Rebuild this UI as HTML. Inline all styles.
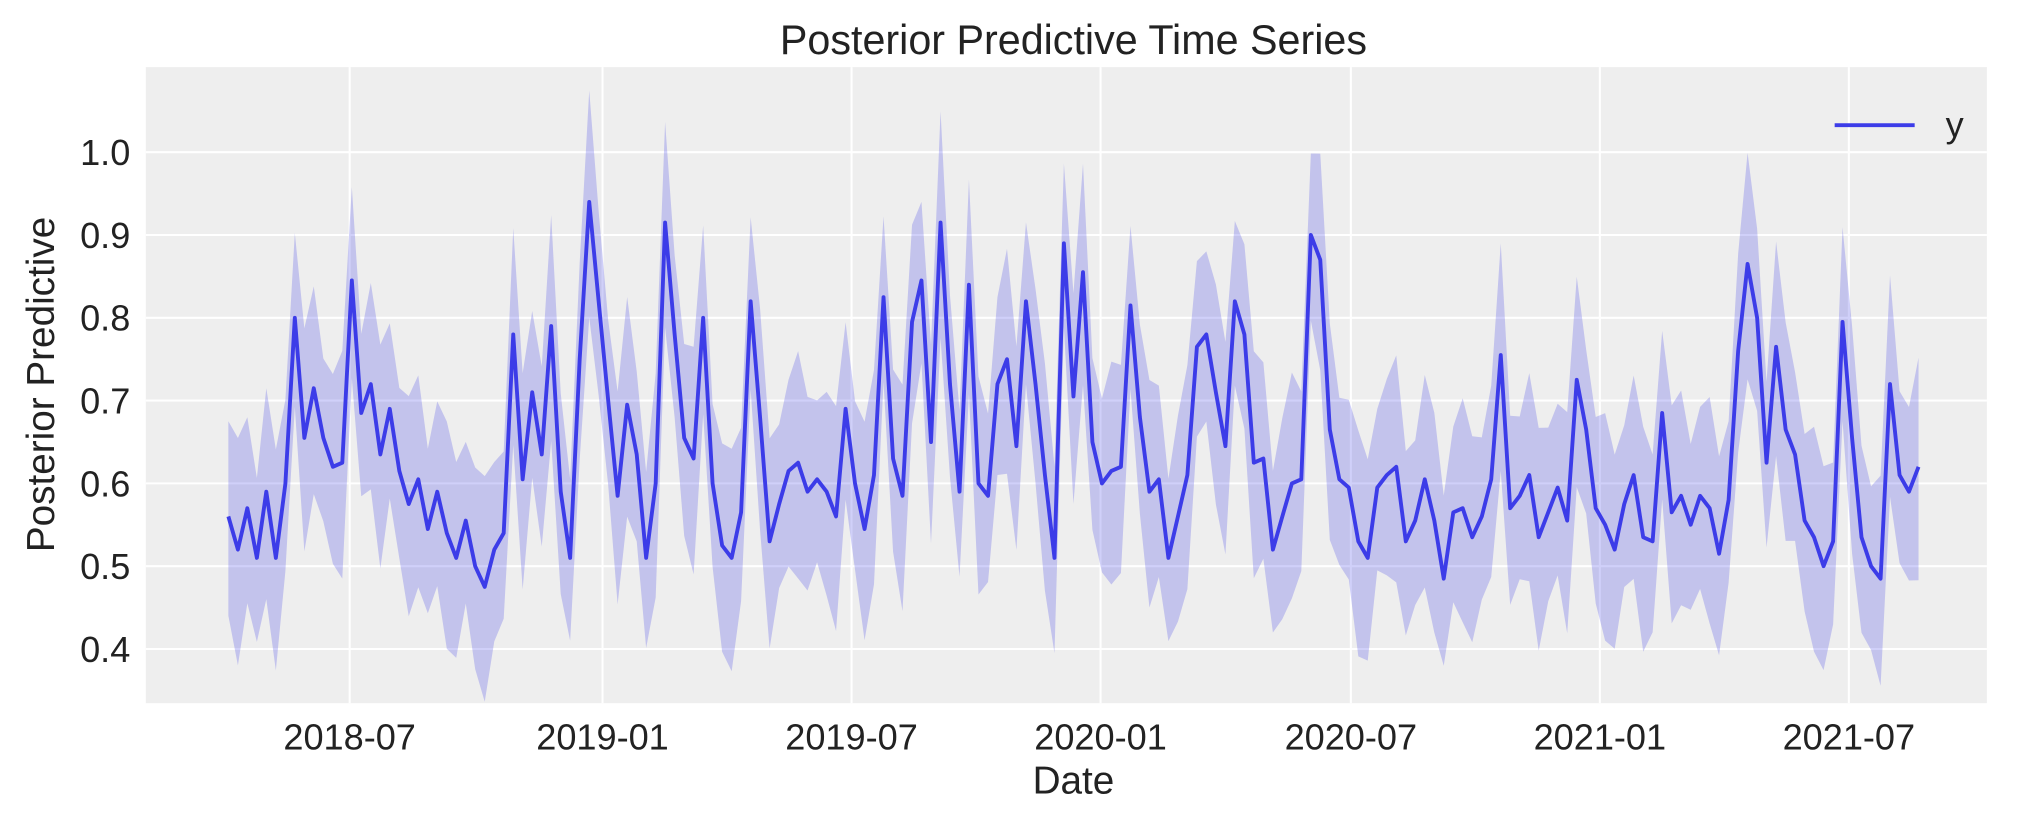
<!DOCTYPE html>
<html><head><meta charset="utf-8"><style>
body{margin:0;background:#fff;}
svg{display:block;font-family:"Liberation Sans","DejaVu Sans",sans-serif;}
</style></head><body>
<svg id="s" width="2023" height="823" xmlns="http://www.w3.org/2000/svg">
<g transform="scale(1.2902)">
<rect x="113" y="52" width="1427" height="493" fill="#eeeeee"/>
<g id="grid" stroke="#fff" stroke-width="1.6"></g>
<path id="band" fill="#3a3ae6" fill-opacity="0.24" stroke="none"/>
<polyline id="line" fill="none" stroke="#3c3ce8" stroke-width="3" stroke-linejoin="round"/>
<g id="labels" font-size="28" fill="#222"></g>
<text x="832" y="42" font-size="32" text-anchor="middle" fill="#222">Posterior Predictive Time Series</text>
<text x="832" y="615" font-size="30" text-anchor="middle" fill="#222">Date</text>
<text transform="translate(42,298) rotate(-90)" font-size="30" text-anchor="middle" fill="#222">Posterior Predictive</text>
<line x1="1422" y1="97" x2="1484" y2="97" stroke="#3c3ce8" stroke-width="3"/>
<text x="1508" y="106" font-size="28" fill="#222">y</text>
</g>
</svg>
<script>
var v=[0.56,0.52,0.57,0.51,0.59,0.51,0.60,0.80,0.655,0.715,0.655,0.62,0.625,0.845,0.685,0.72,0.635,0.69,0.615,0.575,0.605,0.545,0.59,0.54,0.51,0.555,0.50,0.475,0.52,0.54,0.78,0.605,0.71,0.635,0.79,0.59,0.51,0.75,0.94,0.82,0.70,0.585,0.695,0.635,0.51,0.60,0.915,0.78,0.655,0.63,0.80,0.60,0.525,0.51,0.565,0.82,0.68,0.53,0.575,0.615,0.625,0.59,0.605,0.59,0.56,0.69,0.60,0.545,0.61,0.825,0.63,0.585,0.795,0.845,0.65,0.915,0.72,0.59,0.84,0.60,0.585,0.72,0.75,0.645,0.82,0.72,0.61,0.51,0.89,0.705,0.855,0.65,0.60,0.615,0.62,0.815,0.68,0.59,0.605,0.51,0.56,0.61,0.765,0.78,0.71,0.645,0.82,0.78,0.625,0.63,0.52,0.56,0.60,0.605,0.90,0.87,0.665,0.605,0.595,0.53,0.51,0.595,0.61,0.62,0.53,0.555,0.605,0.555,0.485,0.565,0.57,0.535,0.56,0.605,0.755,0.57,0.585,0.61,0.535,0.565,0.595,0.555,0.725,0.665,0.57,0.55,0.52,0.575,0.61,0.535,0.53,0.685,0.565,0.585,0.55,0.585,0.57,0.515,0.58,0.76,0.865,0.80,0.625,0.765,0.665,0.635,0.555,0.535,0.50,0.53,0.795,0.655,0.535,0.50,0.485,0.72,0.61,0.59,0.62];
function Y(t){return 503-(t-0.4)*641.7;}
var n=v.length,x0=177,x1=1487,dx=(x1-x0)/(n-1);
var pts=[],up=[],lo=[];
for(var i=0;i<n;i++){var x=x0+i*dx;pts.push(x.toFixed(1)+","+Y(v[i]).toFixed(1));
var w=0.115+0.02*Math.sin(i*1.7);up.push(x.toFixed(1)+","+Y(v[i]+w).toFixed(1));lo.push(x.toFixed(1)+","+Y(v[i]-w-0.005).toFixed(1));}
document.getElementById('line').setAttribute('points',pts.join(' '));
document.getElementById('band').setAttribute('d','M'+up.join(' L')+' L'+lo.reverse().join(' L')+'Z');
var g=document.getElementById('grid'),L=document.getElementById('labels');
var gh="",lh="";
[0.4,0.5,0.6,0.7,0.8,0.9,1.0].forEach(function(t){var y=Y(t);gh+='<line x1="113" x2="1540" y1="'+y+'" y2="'+y+'"/>';lh+='<text x="101" y="'+(y+10)+'" text-anchor="end">'+t.toFixed(1)+'</text>';});
[[271,"2018-07"],[467,"2019-01"],[660,"2019-07"],[853,"2020-01"],[1047,"2020-07"],[1240,"2021-01"],[1433,"2021-07"]].forEach(function(a){gh+='<line y1="52" y2="545" x1="'+a[0]+'" x2="'+a[0]+'"/>';lh+='<text x="'+a[0]+'" y="581" text-anchor="middle">'+a[1]+'</text>';});
g.innerHTML=gh;L.innerHTML=lh;
</script>
</body></html>
